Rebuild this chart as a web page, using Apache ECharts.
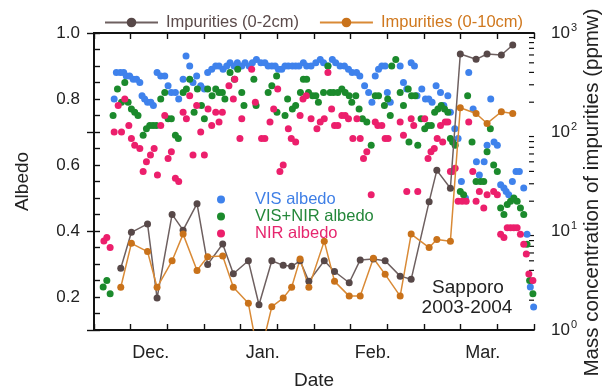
<!DOCTYPE html>
<html>
<head>
<meta charset="utf-8">
<script src="https://cdn.jsdelivr.net/npm/echarts@6/dist/echarts.min.js"></script>
<style>html,body{margin:0;padding:0;background:#fff}#chart{width:605px;height:389px}</style>
</head>
<body>
<div id="chart"></div>
<script>
// day 0 = Dec 1 2003, axis runs 120 days
var monthTicks = [15.5, 46, 76, 106];
var monthLabels = ['Dec.', 'Jan.', 'Feb.', 'Mar.'];
var albedoLabels = [0.2, 0.4, 0.6, 0.8, 1.0];
var logMinorTicks = [2, 3, 4, 5, 6, 7, 8, 9, 20, 30, 40, 50, 60, 70, 80, 90, 200, 300, 400, 500, 600, 700, 800, 900];

var visAlbedo = [[5.5,.80],[6.1,.88],[7.2,.88],[8.1,.88],[8.8,.87],[9.7,.87],[10.7,.86],[11.6,.86],[12.5,.85],[13.1,.81],[13.8,.80],[14.6,.79],[15.5,.79],[16.2,.78],[17.2,.88],[18.2,.87],[19.3,.87],[20.2,.84],[21.1,.82],[22.2,.82],[23.1,.80],[24.3,.86],[25.1,.93],[26.1,.90],[27.0,.85],[28.0,.87],[29.1,.84],[30.1,.83],[31.0,.88],[32.1,.89],[33.2,.90],[34.1,.90],[35.2,.89],[36.2,.90],[37.1,.91],[38.2,.90],[39.1,.91],[40.3,.90],
  [41.2,.91],[42.3,.90],[43.2,.91],[44.3,.92],[45.5,.91],[46.6,.91],[47.5,.90],[48.5,.90],[49.4,.90],[50.3,.89],[51.2,.89],[52.1,.90],[53.0,.90],[54.1,.90],[55.0,.90],[55.9,.90],[57.1,.91],[58.0,.90],[59.2,.90],[60.5,.91],[61.7,.92],[62.6,.91],[63.8,.90],[65.0,.92],[65.9,.91],[67.1,.90],[68.3,.90],[69.4,.89],[70.4,.88],[71.6,.88],[72.5,.87],[73.8,.84],[74.9,.82],[75.8,.79],[76.7,.87],[77.6,.89],[78.5,.90],[79.4,.90],[80.0,.82],
  [80.8,.79],[83.5,.90],[84.4,.85],[85.3,.83],[86.5,.91],[87.4,.90],[88.1,.81],[89.4,.83],[90.4,.80],[91.3,.80],[92.2,.79],[93.3,.84],[94.5,.82],[95.4,.78],[96.5,.81],[97.2,.76],[98.4,.71],[99.3,.68],[100.2,.55],[101.3,.50],[102.2,.88],[103.4,.77],[104.3,.61],[105.1,.57],[106.4,.61],[107.2,.66],[108.2,.80],[109.1,.67],[110.0,.66],[110.9,.54],[111.8,.53],[112.4,.52],[113.1,.51],[114.1,.55],[115.1,.58],[116.0,.58],[117.2,.53],[118.1,.39],[119.0,.23],[119.9,.17]];

var visNirAlbedo = [[2.5,.23],[3.5,.25],[4.4,.21],[5.2,.75],[6.4,.83],[7.5,.79],[8.4,.85],[9.3,.79],[10.2,.77],[11.1,.76],[12.0,.75],[13.4,.69],[14.3,.71],[15.2,.72],[16.1,.72],[17.0,.72],[18.2,.80],[19.3,.82],[20.2,.74],[21.1,.74],[22.2,.69],[23.0,.68],[24.3,.82],[25.2,.83],[26.1,.86],[27.3,.76],[28.2,.83],[29.3,.78],[30.1,.74],[31.0,.83],[32.2,.81],[33.2,.83],[34.1,.82],[35.0,.82],[35.7,.80],[37.1,.88],[38.3,.86],[39.2,.89],[40.3,.82],
  [40.9,.78],[43.6,.86],[44.2,.78],[47.5,.82],[48.5,.84],[49.8,.87],[49.9,.76],[52.1,.75],[52.8,.80],[54.1,.77],[55.0,.78],[56.3,.82],[57.1,.86],[58.0,.86],[58.5,.82],[59.6,.81],[60.5,.81],[61.2,.79],[62.6,.82],[63.8,.90],[64.4,.82],[65.3,.82],[66.5,.82],[67.6,.83],[68.5,.82],[69.6,.81],[70.3,.79],[71.4,.81],[72.3,.77],[73.2,.74],[74.4,.73],[75.6,.66],[76.7,.81],[77.6,.81],[79.2,.78],[80.1,.80],
  [80.8,.75],[81.2,.90],[82.3,.92],[83.5,.82],[84.4,.78],[85.7,.83],[85.9,.67],[86.6,.81],[87.6,.81],[88.3,.66],[89.2,.74],[90.2,.71],[91.1,.72],[92.0,.72],[92.9,.76],[93.8,.77],[94.7,.78],[95.6,.77],[96.5,.76],[97.2,.68],[97.8,.67],[98.5,.66],[99.9,.52],[100.8,.51],[101.9,.81],[103.1,.67],[104.2,.55],[105.4,.55],[106.3,.55],[107.2,.64],[108.1,.71],[109.0,.60],[110.0,.58],[110.9,.47],[111.8,.45],[112.7,.48],[113.6,.49],[114.5,.50],[115.4,.49],[116.3,.47],[117.2,.45],[118.1,.36],[118.8,.25],[119.7,.21]];

var nirAlbedo = [[2.7,.37],[3.5,.38],[4.4,.35],[5.5,.70],[6.6,.78],[7.5,.70],[8.4,.80],[9.5,.72],[10.2,.68],[11.1,.66],[12.5,.65],[13.4,.58],[14.3,.61],[15.4,.63],[16.4,.65],[17.3,.57],[18.2,.72],[19.3,.75],[20.2,.62],[21.1,.64],[22.2,.56],[23.1,.55],[24.3,.76],[25.2,.74],[26.1,.81],[27.0,.63],[28.0,.78],[29.1,.70],[30.1,.63],[31.1,.77],[32.1,.72],[33.2,.76],[34.1,.73],[35.0,.76],[36.8,.84],[38.0,.80],[38.4,.86],[39.8,.68],[40.3,.74],
  [43.0,.89],[44.0,.79],[45.7,.68],[46.6,.68],[48.0,.73],[49.0,.77],[50.1,.83],[50.7,.58],[51.6,.60],[53.0,.71],[53.8,.68],[55.0,.67],[56.2,.75],[57.0,.80],[57.9,.81],[59.2,.74],[60.8,.71],[61.7,.73],[62.8,.74],[63.8,.88],[64.8,.77],[65.6,.72],[66.5,.72],[67.6,.75],[68.5,.75],[69.4,.74],[70.6,.68],[71.7,.74],[72.6,.68],[73.5,.62],[74.4,.64],[75.6,.51],[76.7,.73],[77.4,.72],[78.5,.72],[79.4,.68],[80.2,.68],
  [83.5,.73],[84.4,.69],[85.3,.52],[86.5,.74],[87.2,.72],[88.3,.52],[90.2,.74],[91.1,.62],[91.9,.64],[92.8,.65],[93.6,.68],[94.5,.72],[95.1,.67],[95.8,.73],[96.5,.73],[97.2,.58],[97.8,.58],[98.5,.59],[99.3,.49],[100.4,.49],[101.5,.49],[102.2,.73],[103.3,.58],[104.2,.49],[105.1,.52],[106.3,.47],[107.2,.51],[109.0,.52],[110.0,.51],[110.9,.39],[111.8,.38],[112.7,.41],[113.6,.41],[114.5,.41],[115.4,.41],[116.3,.39],[117.2,.36],[117.9,.33],[118.6,.27],[119.7,.25]];

// impurities, ppmw
var imp2cm = [[7.3,4.2],[10.2,9.7],[14.6,11.8],[17.2,2.1],[21.3,14.7],[24.3,10.2],[28.1,18.9],[31.0,4.6],[35.1,7.4],[38.0,3.7],[42.1,5.0],[45.0,1.8],[48.5,5.0],[51.6,4.5],[53.9,4.4],[56.2,5.0],[58.6,3.1],[62.8,5.0],[65.6,3.9],[69.6,3.0],[72.6,5.1],[76.2,5.2],[79.4,5.0],[83.5,3.5],[86.5,3.25],[91.4,19.8],[93.5,41],[97.2,27],[99.9,614],[104.2,542],[107.2,614],[111.1,600],[114.2,757]];
var imp10cm = [[7.3,2.7],[10.2,7.5],[14.6,6.2],[17.2,2.7],[21.3,5.0],[24.3,9.3],[28.1,4.0],[31.0,5.5],[35.1,5.6],[38.0,2.7],[42.1,1.86],[45.0,0.5],[48.5,1.72],[51.6,2.1],[53.9,2.7],[56.2,5.2],[58.6,2.7],[62.8,7.9],[65.6,3.1],[69.6,2.2],[72.6,2.2],[76.2,5.3],[79.4,3.65],[83.5,2.2],[86.5,9.3],[91.4,6.8],[93.5,8.2],[97.2,7.9],[99.9,176],[104.2,154],[107.2,122],[111.1,160],[114.2,154]];

var FONT = 'Liberation Sans, Arial, Helvetica, sans-serif';
var axisLineStyle = {color: '#111', width: 1.8};
var tickStyle = {color: '#111', width: 1.4};

var chart = echarts.init(document.getElementById('chart'));
chart.setOption({
    animation: false,
    textStyle: {fontFamily: FONT},
    grid: {left: 94, right: 71, top: 33, bottom: 59, containLabel: false, outerBoundsMode: 'none'},
    legend: [{
        left: 99, top: 9,
        itemWidth: 53, itemHeight: 12, itemGap: 20,
        selectedMode: false,
        textStyle: {fontSize: 16.5, fontFamily: FONT, padding: [0, 0, 0, 3]},
        data: [
            {name: 'Impurities (0-2cm)', textStyle: {color: '#5b4b4b'}},
            {name: 'Impurities (0-10cm)', textStyle: {color: '#d0781e'}}
        ]
    }, {
        left: 212, top: 186, orient: 'vertical',
        itemWidth: 58, itemHeight: 8, itemGap: 0,
        selectedMode: false,
        textStyle: {fontSize: 16.5, lineHeight: 17, fontFamily: FONT},
        data: [
            {name: 'VIS albedo', icon: 'circle', textStyle: {color: '#3f7fe6'}},
            {name: 'VIS+NIR albedo', icon: 'circle', textStyle: {color: '#24873a'}},
            {name: 'NIR albedo', icon: 'circle', textStyle: {color: '#e6266e'}}
        ]
    }],
    xAxis: [{
        type: 'value', min: 0, max: 120, interval: 10, position: 'bottom',
        name: 'Date', nameLocation: 'middle', nameGap: 41, nameMoveOverlap: false,
        nameTextStyle: {fontSize: 19, color: '#222', fontFamily: FONT},
        axisLine: {show: true, lineStyle: axisLineStyle},
        axisTick: {show: true, inside: true, length: 6, lineStyle: tickStyle},
        axisLabel: {customValues: monthTicks, margin: 14, fontSize: 18, color: '#222',
            formatter: function (v) { return monthLabels[monthTicks.indexOf(v)] || ''; }},
        splitLine: {show: false}
    }, {
        type: 'value', min: 0, max: 120, interval: 10, position: 'top',
        axisLine: {show: true, lineStyle: axisLineStyle},
        axisTick: {show: true, inside: true, length: 6, lineStyle: tickStyle},
        axisLabel: {show: false},
        splitLine: {show: false}
    }],
    yAxis: [{
        type: 'value', min: 0.1, max: 1.0, interval: 0.05, position: 'left',
        name: 'Albedo', nameLocation: 'middle', nameGap: 62, nameRotate: 90, nameMoveOverlap: false,
        nameTextStyle: {fontSize: 19, color: '#222', fontFamily: FONT},
        axisLine: {show: true, lineStyle: axisLineStyle},
        axisTick: {show: true, inside: true, length: 6, lineStyle: tickStyle},
        axisLabel: {customValues: albedoLabels, margin: 14, fontSize: 17, color: '#222',
            formatter: function (v) { return v.toFixed(1); }},
        splitLine: {show: false}
    }, {
        type: 'log', logBase: 10, min: 1, max: 1000, position: 'right',
        name: 'Mass concentration of impurities (ppmw)', nameLocation: 'middle', nameGap: 48, nameRotate: 90,
        nameMoveOverlap: false,
        nameTextStyle: {fontSize: 20.5, color: '#222', fontFamily: FONT, padding: [0, 22, 0, 0]},
        axisLine: {show: true, lineStyle: axisLineStyle},
        axisTick: {show: true, inside: true, length: 7, lineStyle: tickStyle},
        axisLabel: {margin: 17, fontSize: 17, color: '#222',
            formatter: function (v) { return '10{sup|' + Math.round(Math.log10(v)) + '}'; },
            rich: {sup: {fontSize: 11, color: '#222', padding: [0, 0, 10, 1]}}},
        splitLine: {show: false}
    }],
    graphic: [
        {type: 'text', style: {text: 'Sapporo', x: 468, y: 288, fontSize: 19, fontFamily: FONT, fill: '#222', align: 'center', verticalAlign: 'middle'}},
        {type: 'text', style: {text: '2003-2004', x: 467, y: 308, fontSize: 19, fontFamily: FONT, fill: '#222', align: 'center', verticalAlign: 'middle'}}
    ],
    series: [{
        name: 'VIS albedo', type: 'scatter', xAxisIndex: 0, yAxisIndex: 0,
        symbolSize: 7, itemStyle: {color: '#3f82ec', opacity: 1}, data: visAlbedo
    }, {
        name: 'VIS+NIR albedo', type: 'scatter', xAxisIndex: 0, yAxisIndex: 0,
        symbolSize: 7, itemStyle: {color: '#1b8a2c', opacity: 1}, data: visNirAlbedo
    }, {
        name: 'NIR albedo', type: 'scatter', xAxisIndex: 0, yAxisIndex: 0,
        symbolSize: 7, itemStyle: {color: '#ec1f6c', opacity: 1}, data: nirAlbedo
    }, {
        name: 'Impurities (0-2cm)', type: 'line', xAxisIndex: 0, yAxisIndex: 1,
        symbol: 'circle', symbolSize: 7, showAllSymbol: true,
        lineStyle: {color: '#6e6060', width: 1.5}, itemStyle: {color: '#574848'}, data: imp2cm
    }, {
        name: 'Impurities (0-10cm)', type: 'line', xAxisIndex: 0, yAxisIndex: 1,
        symbol: 'circle', symbolSize: 7, showAllSymbol: true,
        lineStyle: {color: '#d98a36', width: 1.5}, itemStyle: {color: '#c9721a'}, data: imp10cm
    }, {
        // minor ticks of the log axis, placed through the axis scale
        type: 'custom', xAxisIndex: 0, yAxisIndex: 1, silent: true, clip: false,
        data: logMinorTicks.map(function (v) { return [120, v]; }),
        renderItem: function (params, api) {
            var p = api.coord([api.value(0), api.value(1)]);
            return {type: 'line', shape: {x1: p[0] - 5, y1: p[1], x2: p[0], y2: p[1]},
                style: {stroke: '#111', lineWidth: 1.2}};
        }
    }]
});
</script>
</body>
</html>
